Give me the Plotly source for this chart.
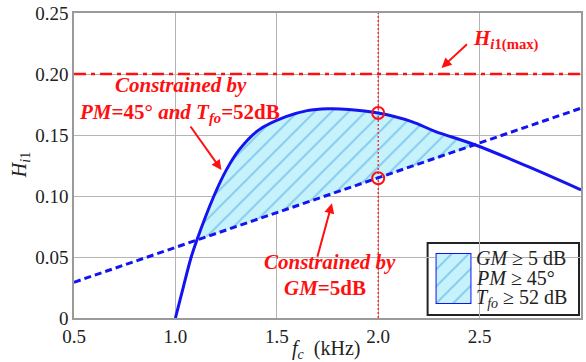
import numpy as np
import plotly.graph_objects as go

# ---- data ----
curve_x = [1.00, 1.04, 1.078, 1.106, 1.19, 1.25, 1.315, 1.41, 1.545, 1.65, 1.75, 1.855, 2.0, 2.165, 2.28, 2.48, 2.74, 3.0]
curve_y = [0.0, 0.026, 0.050, 0.064, 0.100, 0.121, 0.138, 0.154, 0.165, 0.170, 0.1715, 0.171, 0.168, 0.161, 0.153, 0.1418, 0.124, 0.105]
gm_x = [0.5, 3.0]
gm_y = [0.0293, 0.172]
hmax = 0.20
fc_sel = 2.0
mark_x = [2.0, 2.0]
mark_y = [0.168, 0.1145]
x_ticks = [0.5, 1.0, 1.5, 2.0, 2.5, 3.0]
x_ticklabels = ["0.5", "1.0", "1.5", "2.0", "2.5", "3.0"]
y_ticks = [0, 0.05, 0.10, 0.15, 0.20, 0.25]
y_ticklabels = ["0", "0.05", "0.10", "0.15", "0.20", "0.25"]

# feasible region: curve above GM line, between their crossings
cx = np.array(curve_x)
cy = np.array(curve_y)
lower = np.interp(cx, gm_x, gm_y)
mask = (cy >= lower - 0.004) & (cx > 1.05)
fx = cx[mask]
fy = cy[mask]
fl = np.minimum(np.interp(fx, gm_x, gm_y), fy)

SERIF = "Liberation Serif"
RED = "#ff1010"
BLUE = "#1414f0"
HATCH = dict(shape="/", fgcolor="#3c9ce0", bgcolor="#c6f3fb", size=12, solidity=0.16)

fig = go.Figure()

# fill region
fig.add_trace(go.Scatter(x=fx, y=fl, mode="lines", line=dict(width=0), showlegend=False, hoverinfo="skip"))
fig.add_trace(go.Scatter(x=fx, y=fy, mode="lines", line=dict(width=0, shape="spline"), fill="tonexty",
                         fillcolor="#c6f3fb", fillpattern=HATCH, showlegend=False, hoverinfo="skip"))

# H max line
fig.add_trace(go.Scatter(x=[0.5, 3.0], y=[hmax, hmax], mode="lines",
                         line=dict(color=RED, width=2.5, dash="12px,5px,4px,5px"), showlegend=False))
# vertical selected fc
fig.add_trace(go.Scatter(x=[fc_sel, fc_sel], y=[0, 0.25], mode="lines",
                         line=dict(color=RED, width=1.2, dash="2px,2px"), showlegend=False))
# GM line
fig.add_trace(go.Scatter(x=gm_x, y=gm_y, mode="lines",
                         line=dict(color=BLUE, width=3, dash="7px,4px"), showlegend=False))
# PM / Tfo curve
fig.add_trace(go.Scatter(x=curve_x, y=curve_y, mode="lines",
                         line=dict(color=BLUE, width=3, shape="spline"), showlegend=False))
# markers
fig.add_trace(go.Scatter(x=mark_x, y=mark_y, mode="markers",
                         marker=dict(symbol="circle-open", size=12, color=RED, line=dict(width=2, color=RED)),
                         showlegend=False))

# legend swatch on auxiliary axes
fig.add_trace(go.Scatter(x=[0, 1, 1, 0, 0], y=[0, 0, 1, 1, 0], mode="lines", xaxis="x2", yaxis="y2",
                         line=dict(color=BLUE, width=2), fill="toself", fillcolor="#c6f3fb",
                         fillpattern=HATCH, showlegend=False, hoverinfo="skip"))

font = dict(family=SERIF, size=19, color="#222")
fig.update_layout(
    width=586, height=362,
    margin=dict(l=74, r=3, t=13, b=44),
    paper_bgcolor="white", plot_bgcolor="white",
    font=font,
    xaxis=dict(range=[0.5, 3.0], tickvals=x_ticks, ticktext=x_ticklabels, showgrid=True,
               gridcolor="#b4b4b4", gridwidth=1, showline=True, mirror=True, linecolor="#9a9a9a",
               linewidth=1.5, zeroline=False, ticks="", tickfont=font),
    yaxis=dict(range=[0, 0.25], tickvals=y_ticks, ticktext=y_ticklabels, showgrid=True,
               gridcolor="#b4b4b4", gridwidth=1, showline=True, mirror=True, linecolor="#9a9a9a",
               linewidth=1.5, zeroline=False, ticks="", tickfont=font),
    xaxis2=dict(domain=[(437 - 74) / 509, (473 - 74) / 509], range=[0, 1], visible=False, anchor="y2"),
    yaxis2=dict(domain=[(318 - 304) / 305, (318 - 253) / 305], range=[0, 1], visible=False, anchor="x2"),
    showlegend=False,
)

# legend box
fig.add_shape(type="rect", xref="paper", yref="paper",
              x0=(429 - 74) / 509, x1=(581 - 74) / 509, y0=(318 - 315) / 305, y1=(318 - 243) / 305,
              line=dict(color="#222", width=2), fillcolor="white", layer="below")

anns = []
def ann(text, x, y, xref="x", yref="y", size=19, color="#222", xanchor="center", **kw):
    anns.append(dict(text=text, x=x, y=y, xref=xref, yref=yref, showarrow=False,
                     font=dict(family=SERIF, size=size, color=color), xanchor=xanchor, yanchor="middle", **kw))

# legend texts
lx = (476 - 74) / 509
ann("<i>GM</i> ≥ 5 dB", lx, (318 - 258) / 305, "paper", "paper", size=20, xanchor="left")
ann("<i>PM</i> ≥ 45°", lx, (318 - 278) / 305, "paper", "paper", size=20, xanchor="left")
ann("<i>T</i><sub><i>fo</i></sub> ≥ 52 dB", lx, (318 - 298) / 305, "paper", "paper", size=20, xanchor="left")

# axis titles
ann("<i>H</i><sub><i>i</i>1</sub>", (20 - 74) / 509, (318 - 165) / 305, "paper", "paper", size=20, textangle=-90)
ann("<i>f</i><sub><i>c</i></sub>  (kHz)", (327 - 74) / 509, (318 - 349) / 305, "paper", "paper", size=20)

# red annotations
ann("<b><i>Constrained by</i></b>", 1.03, 0.191, size=21, color=RED)
ann("<b><i>PM</i>=45° <i>and T</i><sub><i>fo</i></sub>=52dB</b>", 1.02, 0.168, size=21, color=RED)
ann("<b><i>Constrained by</i></b>", 1.76, 0.046, size=21, color=RED)
ann("<b><i>GM</i>=5dB</b>", 1.74, 0.025, size=21, color=RED)
ann("<b><i>H</i><sub><i>i</i>1(max)</sub></b>", 2.63, 0.228, size=21, color=RED)

for (tx, ty, axp, ayp) in [(1.227, 0.1213, -32, -45), (1.772, 0.094, -15, 55), (2.312, 0.205, 27, -25)]:
    anns.append(dict(text="", x=tx, y=ty, xref="x", yref="y", showarrow=True, ax=axp, ay=ayp,
                     arrowhead=2, arrowsize=1, arrowwidth=2, arrowcolor=RED))

fig.update_layout(annotations=anns)
fig.write_html("out.html")
